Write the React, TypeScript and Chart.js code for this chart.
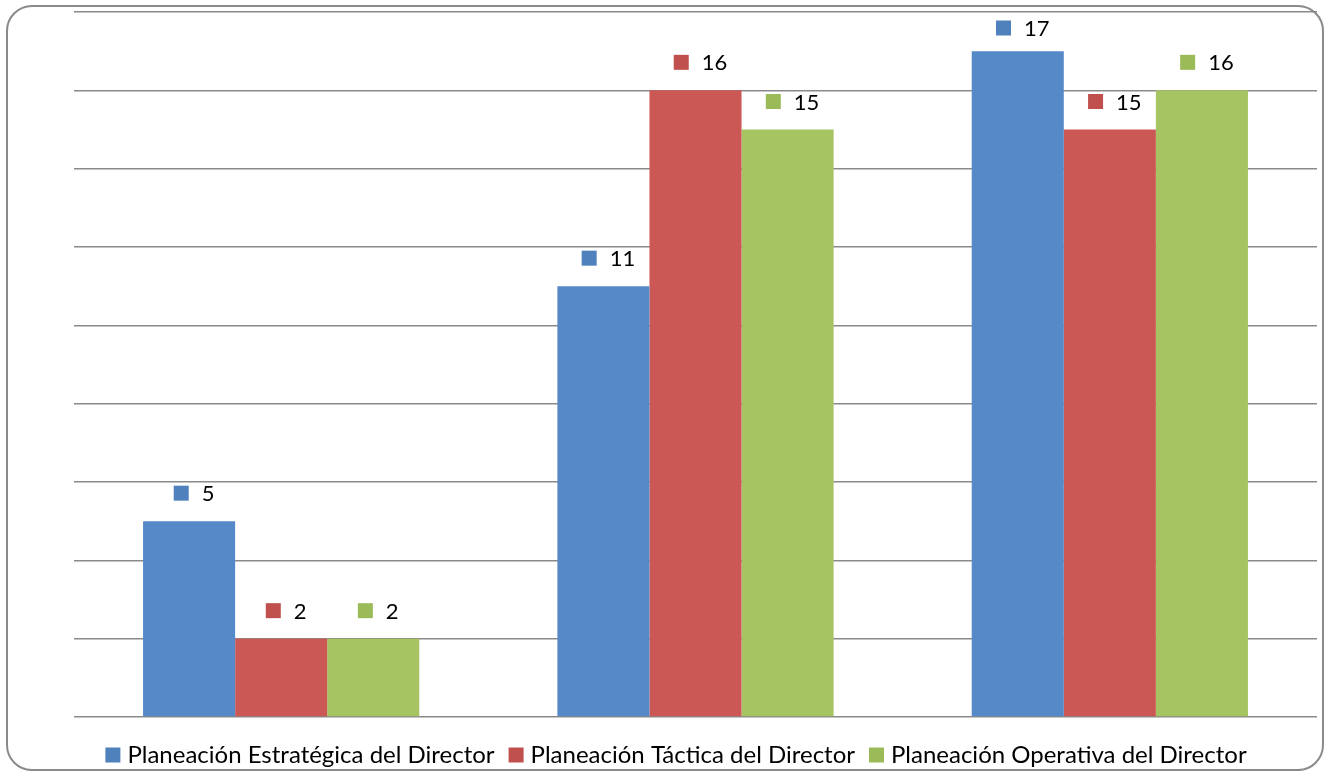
import React, { useEffect, useRef } from "react";
import { Chart, registerables } from "chart.js";

Chart.register(...registerables);

const categories = ["", "", ""];
const seriesLabels = [
  "Planeación Estratégica del Director",
  "Planeación Táctica del Director",
  "Planeación Operativa del Director",
];
const estrategica = [5, 11, 17];
const tactica = [2, 16, 15];
const operativa = [2, 15, 16];
const barColors = ["#5689C8", "#CB5855", "#A6C462"];
const keyColors = ["#4F81BD", "#C0504D", "#9BBB59"];
const yMax = 18;
const yStep = 2;

const FONT = "Lato, 'Open Sans', sans-serif";

const labelPlugin = {
  id: "keyLabels",
  afterDatasetsDraw(chart: any) {
    const ctx = chart.ctx;
    ctx.save();
    ctx.font = `22px ${FONT}`;
    ctx.textBaseline = "middle";
    chart.data.datasets.forEach((ds: any, di: number) => {
      const meta = chart.getDatasetMeta(di);
      meta.data.forEach((bar: any, i: number) => {
        const txt = String(ds.data[i]);
        const tw = ctx.measureText(txt).width;
        const box = 15;
        const gap = 13;
        const total = box + gap + tw;
        const cx = bar.x + 5;
        let cy = bar.y - 28;
        if (cy < 28) cy = 28;
        const left = cx - total / 2;
        ctx.fillStyle = keyColors[di];
        ctx.fillRect(left, cy - box / 2, box, box);
        ctx.fillStyle = "#000";
        ctx.textAlign = "left";
        ctx.fillText(txt, left + box + gap, cy + 1);
      });
    });
    ctx.restore();
  },
};

const legendPlugin = {
  id: "customLegend",
  afterDraw(chart: any) {
    const ctx = chart.ctx;
    ctx.save();
    ctx.font = `24px ${FONT}`;
    ctx.textBaseline = "middle";
    const box = 15;
    const gapText = 7;
    const gapItem = 14;
    const widths = seriesLabels.map((l) => ctx.measureText(l).width);
    const total =
      widths.reduce((a, b) => a + b, 0) +
      seriesLabels.length * (box + gapText) +
      (seriesLabels.length - 1) * gapItem;
    let x = 676 - total / 2;
    const cy = 755;
    seriesLabels.forEach((l, i) => {
      ctx.fillStyle = keyColors[i];
      ctx.fillRect(x, cy - box / 2, box, box);
      x += box + gapText;
      ctx.fillStyle = "#000";
      ctx.textAlign = "left";
      ctx.fillText(l, x, cy);
      x += widths[i] + gapItem;
    });
    ctx.restore();
  },
};

export default function App() {
  const ref = useRef<HTMLCanvasElement>(null);
  useEffect(() => {
    const chart = new Chart(ref.current!, {
      type: "bar",
      data: {
        labels: categories,
        datasets: [estrategica, tactica, operativa].map((d, i) => ({
          label: seriesLabels[i],
          data: d,
          backgroundColor: barColors[i],
          borderWidth: 0,
          categoryPercentage: 3 / 4.5,
          barPercentage: 1,
        })),
      },
      options: {
        responsive: false,
        animation: false,
        layout: { padding: { left: 74, right: 16, top: 12, bottom: 51 } },
        plugins: { legend: { display: false }, tooltip: { enabled: false } },
        scales: {
          x: {
            grid: { display: false },
            border: { display: false },
            ticks: { display: false },
          },
          y: {
            min: 0,
            max: yMax,
            ticks: { display: false, stepSize: yStep },
            grid: { color: "#8a8a8a", lineWidth: 1.5, drawTicks: false },
            border: { display: false },
          },
        },
      },
      plugins: [labelPlugin, legendPlugin],
    });
    return () => chart.destroy();
  }, []);
  return (
    <div
      style={{
        position: "fixed",
        left: 0,
        top: 0,
        width: 1333,
        height: 776,
        background: "#fff",
      }}
    >
      <canvas ref={ref} width={1333} height={776} style={{ position: "absolute", left: 0, top: 0 }} />
      <div
        style={{
          position: "absolute",
          left: 6,
          top: 5,
          width: 1318,
          height: 766,
          border: "2px solid #8a8a8a",
          borderRadius: 26,
          boxSizing: "border-box",
          pointerEvents: "none",
        }}
      />
    </div>
  );
}
